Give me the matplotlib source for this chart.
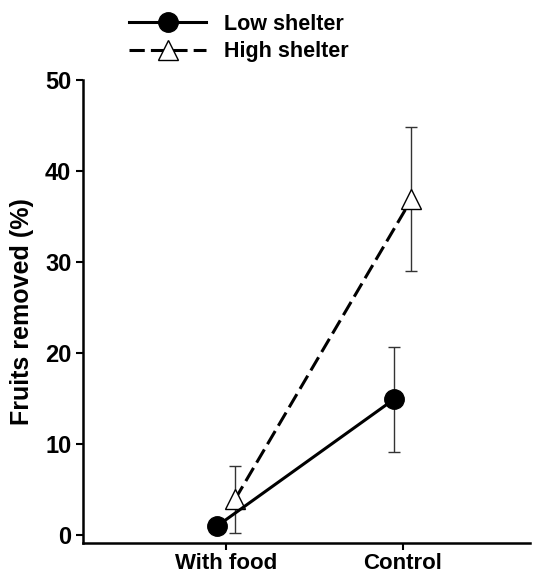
import numpy as np
import matplotlib
matplotlib.use("Agg")
import matplotlib.pyplot as plt

plt.rcParams['font.family'] = ['Liberation Sans', 'DejaVu Sans']
plt.rcParams['font.weight'] = 'bold'

# data
categories = ['With food', 'Control']
low_mean = [1.0, 14.9]
low_err_lo = [0.0, 5.8]
low_err_hi = [0.0, 5.8]
high_mean = [3.9, 36.9]
high_err_lo = [3.7, 7.9]
high_err_hi = [3.7, 7.9]

x = np.arange(1, len(categories) + 1)
off = 0.05

fig = plt.figure(figsize=(5.4, 5.76), dpi=100)
ax = fig.add_axes([0.154, 0.057, 0.827, 0.804])

ax.errorbar(x + off, high_mean, yerr=[high_err_lo, high_err_hi], fmt='none',
            ecolor='#333333', elinewidth=1, capsize=4.5, capthick=1, zorder=1)
ax.errorbar(x - off, low_mean, yerr=[low_err_lo, low_err_hi], fmt='none',
            ecolor='#333333', elinewidth=1, capsize=4.5, capthick=1, zorder=1)
l2, = ax.plot(x + off, high_mean, color='black', lw=2.2, dashes=(5, 2),
              marker='^', ms=14, mfc='white', mec='black', mew=1, zorder=2,
              label='High shelter')
l1, = ax.plot(x - off, low_mean, color='black', lw=2.2,
              marker='o', ms=14, mfc='black', mec='black', zorder=3,
              label='Low shelter')

ax.set_xlim(0.19, 2.72)
ax.set_ylim(-0.9, 50)
ax.set_xticks(x)
ax.set_xticklabels(categories, fontsize=16, fontweight='bold')
ax.set_yticks([0, 10, 20, 30, 40, 50])
ax.tick_params(axis='y', labelsize=17, width=1.5, length=5)
ax.tick_params(axis='x', width=1.5, length=5, pad=2)
for t in ax.get_yticklabels():
    t.set_fontweight('bold')
ax.set_ylabel('Fruits removed (%)', fontsize=18, fontweight='bold', labelpad=8)
for s in ['top', 'right']:
    ax.spines[s].set_visible(False)
for s in ['left', 'bottom']:
    ax.spines[s].set_linewidth(1.8)

fig.legend(handles=[l1, l2], loc='upper left', bbox_to_anchor=(0.203, 1.01),
           frameon=False, handlelength=3.6, handletextpad=0.8,
           prop={'weight': 'bold', 'size': 15.5}, labelspacing=0.3)

plt.savefig('out.png', dpi=100)
